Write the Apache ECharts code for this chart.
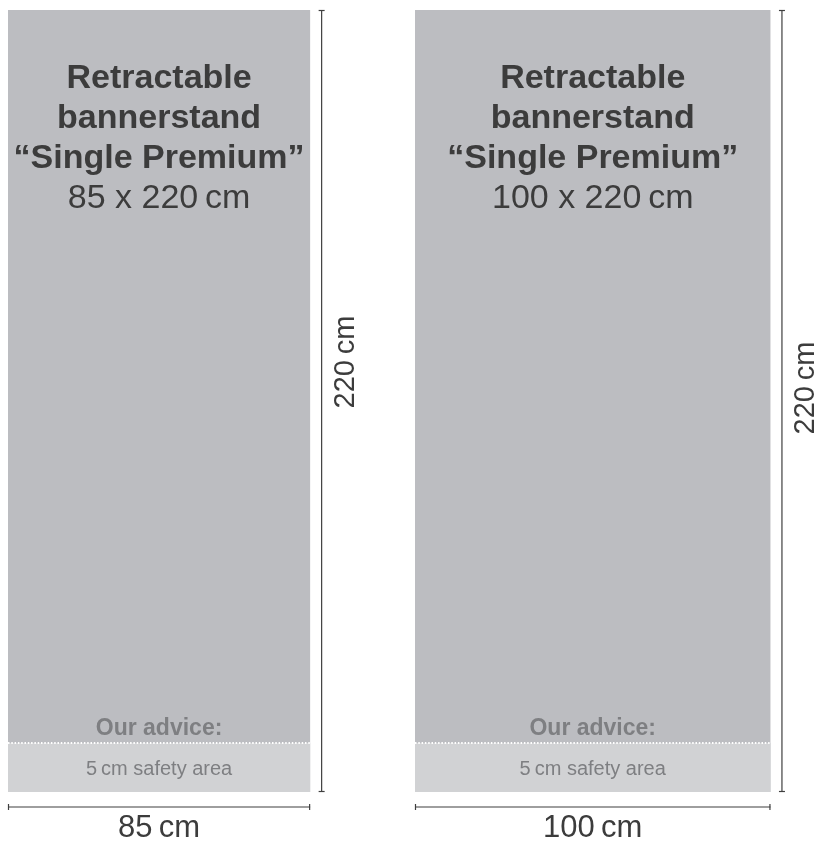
<!DOCTYPE html>
<html>
<head>
<meta charset="utf-8">
<script src="https://cdn.jsdelivr.net/npm/echarts@6/dist/echarts.min.js"></script>
<style>html,body{margin:0;padding:0;background:#fff}#c{width:819px;height:845px}</style>
</head>
<body>
<div id="c"></div>
<script>
// ---- data ----
const titleLines = ['Retractable', 'bannerstand', '\u201CSingle Premium\u201D'];
const bannerWidths = [85, 100];      // cm
const bannerHeights = [220, 220];    // cm
const safetyArea = [5, 5];           // cm
const adviceLabel = 'Our advice:';
const unit = 'cm';

// ---- layout (styles/positions) ----
const GAP_CM = 29.5;
const FONT = '"Liberation Sans", Arial, Helvetica, sans-serif';
const MAIN = '#bcbdc1', SAFE = '#d1d2d4', DARK = '#3c3c3c', MID = '#7e7f82', LINE = '#3f3f3f';
const heightLabelShift = [-39, -13];

const starts = [];
let acc = 0;
bannerWidths.forEach((w, i) => { starts.push(acc); acc += w + GAP_CM; });
const xMax = starts[starts.length - 1] + bannerWidths[bannerWidths.length - 1];
const yMax = Math.max(...bannerHeights);

const data = bannerWidths.map((w, i) => [starts[i], w, bannerHeights[i], safetyArea[i]]);

const T = '\u2009';
function txt(x, y, text, size, weight, color, extra) {
  return Object.assign({
    type: 'text', x: x, y: y,
    style: { text: text, fill: color, font: weight + ' ' + size + 'px ' + FONT, align: 'center', verticalAlign: 'middle' }
  }, extra || {});
}
function ln(x1, y1, x2, y2, extraStyle) {
  return { type: 'line', shape: { x1: x1, y1: y1, x2: x2, y2: y2 },
    style: Object.assign({ stroke: LINE, lineWidth: 1.2 }, extraStyle || {}) };
}

function renderItem(params, api) {
  const i = params.dataIndex;
  const x0 = api.value(0), w = api.value(1), h = api.value(2), s = api.value(3);
  const bl = api.coord([x0, 0]);
  const tr = api.coord([x0 + w, h]);
  const left = bl[0], bottom = bl[1], right = tr[0], top = tr[1];
  const cx = (left + right) / 2;
  const band = 49;
  const ch = [];
  ch.push({ type: 'rect', shape: { x: left, y: top, width: right - left, height: bottom - top }, style: { fill: MAIN } });
  ch.push({ type: 'rect', shape: { x: left, y: bottom - band, width: right - left, height: band }, style: { fill: SAFE } });
  ch.push(ln(left, bottom - band, right, bottom - band, { stroke: '#ffffff', lineWidth: 2, lineDash: [1.5, 1.8] }));
  titleLines.forEach((t, k) => ch.push(txt(cx, top + 69 + 40 * k, t, 34, 'bold', DARK)));
  ch.push(txt(cx, top + 189, w + ' x ' + h + T + unit, 34, 'normal', DARK));
  ch.push(txt(cx, bottom - 63, adviceLabel, 23, 'bold', MID));
  ch.push(txt(cx, bottom - 23, s + T + unit + ' safety area', 20, 'normal', MID));
  // vertical dimension
  const vx = right + 11.5;
  ch.push(ln(vx, top, vx, bottom));
  ch.push(ln(vx - 3, top + 0.5, vx + 3, top + 0.5));
  ch.push(ln(vx - 3, bottom - 0.5, vx + 3, bottom - 0.5));
  ch.push(txt(right + 36, (top + bottom) / 2 + heightLabelShift[i], h + T + unit, 29, 'normal', DARK, { rotation: Math.PI / 2 }));
  // horizontal dimension
  const hy = bottom + 15;
  ch.push(ln(left, hy, right, hy));
  ch.push(ln(left + 0.5, hy - 3, left + 0.5, hy + 3));
  ch.push(ln(right - 0.5, hy - 3, right - 0.5, hy + 3));
  ch.push(txt(cx, bottom + 36, w + T + unit, 31, 'normal', DARK));
  return { type: 'group', children: ch };
}

const chart = echarts.init(document.getElementById('c'), null, { renderer: 'canvas' });
const pxPerCm = 782 / yMax;
chart.setOption({
  animation: false,
  grid: { left: 8, top: 10, width: xMax * pxPerCm, height: 782, containLabel: false },
  xAxis: { type: 'value', min: 0, max: xMax, show: false },
  yAxis: { type: 'value', min: 0, max: yMax, show: false },
  series: [{ type: 'custom', renderItem: renderItem, data: data, clip: false, encode: { x: [0], y: [2] } }]
});
</script>
</body>
</html>
